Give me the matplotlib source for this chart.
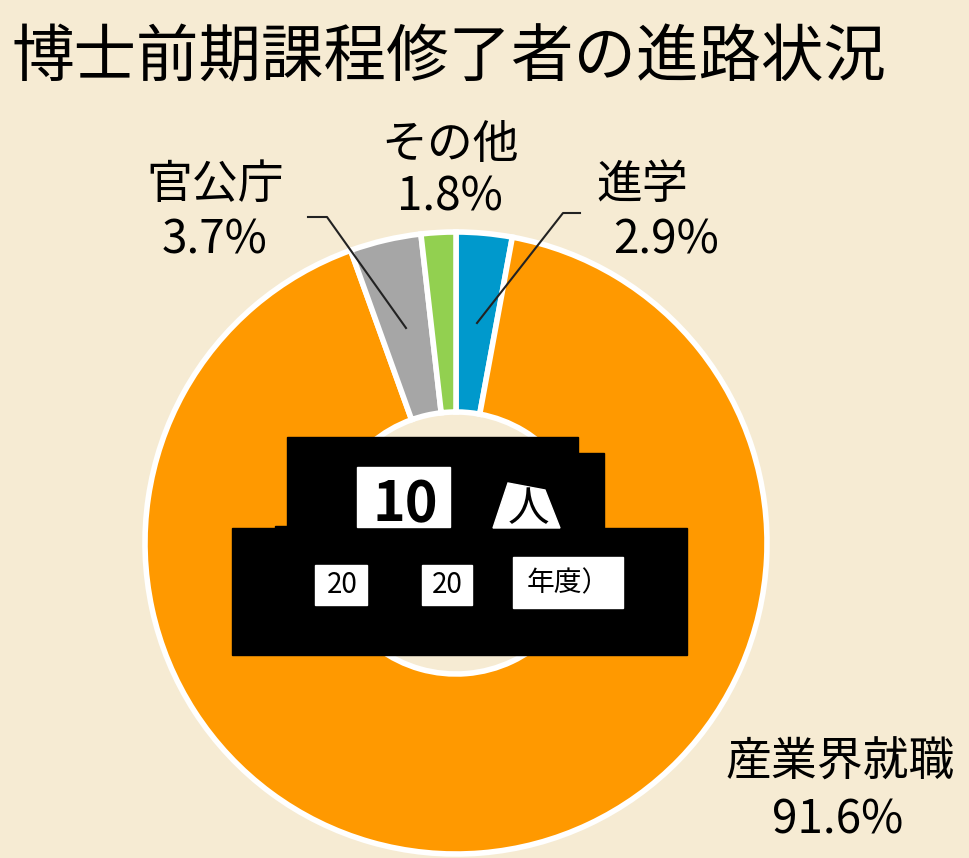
import matplotlib
matplotlib.use('Agg')
import matplotlib.pyplot as plt
from matplotlib.patches import Rectangle, Polygon

plt.rcParams['font.family'] = ['Noto Sans CJK JP', 'DejaVu Sans']

# データ（12時から時計回り）
labels = ['進学', '産業界就職', '官公庁', 'その他']
values = [2.9, 91.6, 3.7, 1.8]
colors = ['#0099cc', '#ff9900', '#a6a6a6', '#92d050']
title = '博士前期課程修了者の進路状況'

W, H = 970, 858
bg = '#f6ebd3'

fig = plt.figure(figsize=(W / 100, H / 100), dpi=100, facecolor=bg)
ax = fig.add_axes([0, 0, 1, 1])
ax.set_facecolor(bg)

# ピクセル座標 (上から) -> 軸座標
def Y(py):
    return H - py

cx, cy, R = 456, 543, 311
ax.pie(values, colors=colors, startangle=90, counterclock=False,
       center=(cx, Y(cy)), radius=R,
       wedgeprops=dict(width=180, edgecolor='white', linewidth=4))
ax.set_xlim(0, W)
ax.set_ylim(0, H)
ax.set_aspect('equal')
ax.axis('off')

# タイトル
ax.text(12, Y(58), title, fontsize=45, ha='left', va='center', color='black')

# ラベル
lab_fs = 33
ax.text(215, Y(185), labels[2], fontsize=lab_fs, ha='center', va='center')
ax.text(215, Y(240), f'{values[2]}%', fontsize=lab_fs, ha='center', va='center')
ax.text(450, Y(145), labels[3], fontsize=lab_fs, ha='center', va='center')
ax.text(450, Y(197), f'{values[3]}%', fontsize=lab_fs, ha='center', va='center')
ax.text(642, Y(185), labels[0], fontsize=lab_fs, ha='center', va='center')
ax.text(666, Y(240), f'{values[0]}%', fontsize=lab_fs, ha='center', va='center')
ax.text(840, Y(762), labels[1], fontsize=lab_fs, ha='center', va='center')
ax.text(838, Y(820), f'{values[1]}%', fontsize=lab_fs, ha='center', va='center')

# 引き出し線
ax.plot([308, 327, 406], [Y(217), Y(217), Y(328)], color='#222222', lw=1.5)
ax.plot([580, 563, 477], [Y(213), Y(213), Y(323)], color='#222222', lw=1.5)

# 中央の黒塗り
blk = [(287, 437, 578, 530), (578, 453, 604, 530), (232, 528, 687, 655),
       (275, 526, 290, 532)]
for x0, y0, x1, y1 in blk:
    ax.add_patch(Rectangle((x0, Y(y1)), x1 - x0, y1 - y0, color='black', zorder=5))

# 黒塗りから透けている文字
white = [(357, 467, 450, 527), (315, 565, 367, 605), (422, 565, 472, 605),
         (513, 557, 623, 608)]
for x0, y0, x1, y1 in white:
    ax.add_patch(Rectangle((x0, Y(y1)), x1 - x0, y1 - y0, color='white', zorder=6))
ax.add_patch(Polygon([(493, Y(528)), (560, Y(528)), (545, Y(490)), (508, Y(483))],
                     color='white', zorder=6))
ax.text(405, Y(505), '10', fontsize=40, fontweight='bold', ha='center', va='center',
        color='black', zorder=7)
ax.text(528, Y(510), '人', fontsize=30, ha='center', va='center', color='black', zorder=7)
ax.text(342, Y(585), '20', fontsize=20, ha='center', va='center', zorder=7)
ax.text(447, Y(585), '20', fontsize=20, ha='center', va='center', zorder=7)
ax.text(568, Y(583), '年度）', fontsize=20, ha='center', va='center', zorder=7)

fig.savefig('out.png', dpi=100, facecolor=bg)
